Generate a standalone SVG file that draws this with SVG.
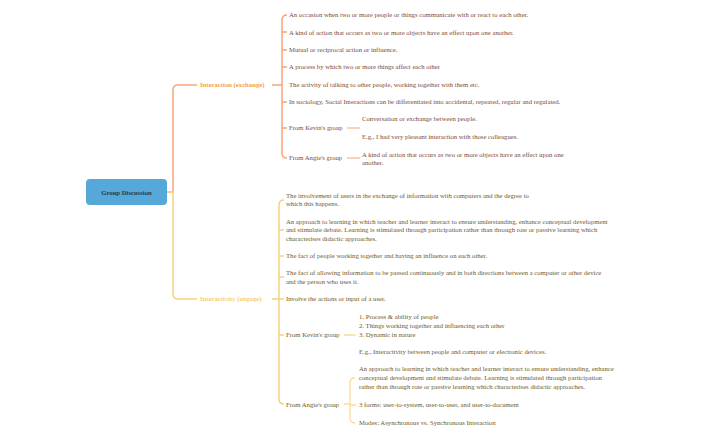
<svg xmlns="http://www.w3.org/2000/svg" width="708" height="438" viewBox="0 0 708 438">
<style>
text{font-family:"Liberation Serif",serif;font-size:6.7px}
.a{fill:#7d4a38}.b{fill:#6e5a2c}
.lo{fill:none;stroke:#f7a77a;stroke-width:1.5}
.ly{fill:none;stroke:#f7d27e;stroke-width:1.5}
.lo2{fill:none;stroke:#f9c2a4;stroke-width:1.3}
.ly2{fill:none;stroke:#f9dc9a;stroke-width:1.3}
</style>
<rect width="708" height="438" fill="#fff"/>
<g id="connectors">
<path class="lo" d="M167 192H173V90Q173 85 178 85H197"/>
<path class="ly" d="M167 192H173V294Q173 299 178 299H197"/>
<path class="lo" d="M272 85H282M282 20Q282 15 287 15M282 20V153Q282 158 287 158M282 32H287M282 50H287M282 67H287M282 102H287M282 128H287"/>
<path class="lo2" d="M347 128H360M347 158H360"/>
<path class="ly" d="M272 299H284M279 205Q279 200 284 200M279 205V399Q279 404 284 404M279 230H284M279 256H284M279 277H284M279 335H284"/>
<path class="ly2" d="M344 335H356M344 404H350M350 383Q350 378 355 378M350 383V418Q350 423 355 423M350 405H356"/>
</g>
<g id="root"><rect x="86" y="179" width="81" height="26" rx="4" fill="#55a8d8"/><text x="126.5" y="194.5" text-anchor="middle" font-weight="bold" fill="#1e3a55">Group Discussion</text></g>
<g id="interaction"><text x="200" y="87" font-weight="bold" fill="#f5a04a">Interaction (exchange)</text></g>
<g id="i-items">
<text x="289" y="17" class="a">An occasion when two or more people or things communicate with or react to each other.</text>
<text x="289" y="35" class="a">A kind of action that occurs as two or more objects have an effect upon one another.</text>
<text x="289" y="52" class="a">Mutual or reciprocal action or influence.</text>
<text x="289" y="69" class="a">A process by which two or more things affect each other</text>
<text x="289" y="87" class="a">The activity of talking to other people, working together with them etc.</text>
<text x="289" y="104" class="a">In sociology, Social Interactions can be differentiated into accidental, repeated, regular and regulated.</text>
<text x="289" y="130" class="a">From Kevin's group</text>
<text x="362" y="121" class="a">Conversation or exchange between people.</text>
<text x="362" y="139" class="a">E.g., I had very pleasant interaction with those colleagues.</text>
<text x="289" y="160" class="a">From Angie's group</text>
<text x="362" y="157" class="a">A kind of action that occurs as two or more objects have an effect upon one</text>
<text x="362" y="165" class="a">another.</text>
</g>
<g id="interactivity"><text x="200" y="301" font-weight="bold" fill="#f7cf72">Interactivity (engage)</text></g>
<g id="y-items">
<text x="286" y="198" class="b">The involvement of users in the exchange of information with computers and the degree to</text>
<text x="286" y="206" class="b">which this happens.</text>
<text x="286" y="224" class="b">An approach to learning in which teacher and learner interact to ensure understanding, enhance conceptual development</text>
<text x="286" y="232" class="b">and stimulate debate. Learning is stimulated through participation rather than through rote or passive learning which</text>
<text x="286" y="241" class="b">characterises didactic approaches.</text>
<text x="286" y="258" class="b">The fact of people working together and having an influence on each other.</text>
<text x="286" y="275" class="b">The fact of allowing information to be passed continuously and in both directions between a computer or other device</text>
<text x="286" y="284" class="b">and the person who uses it.</text>
<text x="286" y="301" class="b">Involve the actions or input of a user.</text>
<text x="286" y="337" class="b">From Kevin's group</text>
<text x="359" y="319" class="b">1. Process &amp; ability of people</text>
<text x="359" y="328" class="b">2. Things working together and influencing each other</text>
<text x="359" y="337" class="b">3. Dynamic in nature</text>
<text x="359" y="354" class="b">E.g., Interactivity between people and computer or electronic devices.</text>
<text x="286" y="407" class="b">From Angie's group</text>
<text x="359" y="371" class="b">An approach to learning in which teacher and learner interact to ensure understanding, enhance</text>
<text x="359" y="380" class="b">conceptual development and stimulate debate. Learning is stimulated through participation</text>
<text x="359" y="389" class="b">rather than through rote or passive learning which characterises didactic approaches.</text>
<text x="359" y="407" class="b">3 forms: user-to-system, user-to-user, and user-to-document</text>
<text x="359" y="425" class="b">Modes: Asynchronous vs. Synchronous Interaction</text>
</g>
</svg>
